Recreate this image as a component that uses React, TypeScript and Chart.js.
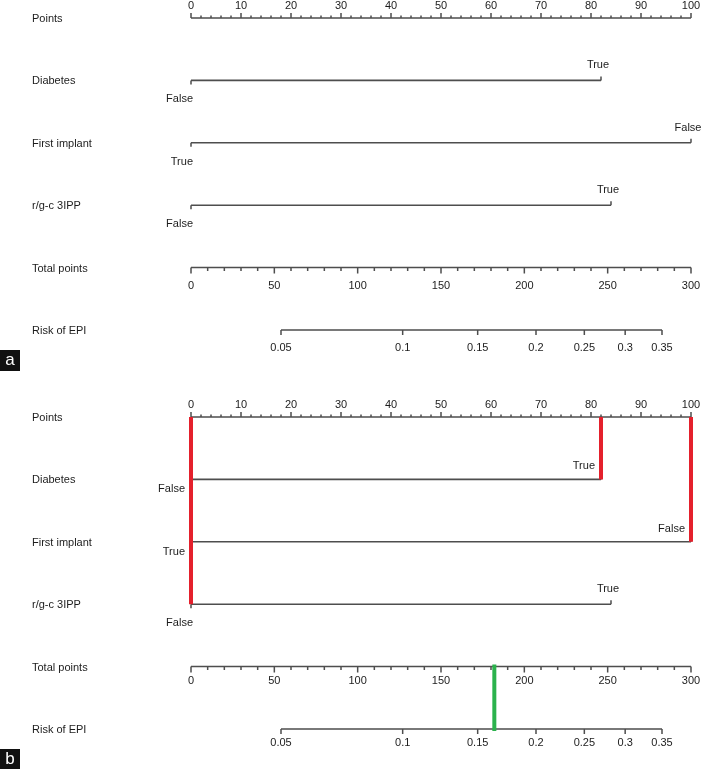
import React, { useEffect, useRef } from 'react';
import { Chart, registerables } from 'chart.js';

Chart.register(...registerables);

// ---- data ----
const rowTitles = ['Points', 'Diabetes', 'First implant', 'r/g-c 3IPP', 'Total points', 'Risk of EPI'];
const pointsTickValues = [0, 10, 20, 30, 40, 50, 60, 70, 80, 90, 100];
const pointsMinorStep = 2;
const lowLevelLabels = ['False', 'True', 'False'];
const lowLevelPoints = [0, 0, 0];
const highLevelLabels = ['True', 'False', 'True'];
const highLevelPoints = [82, 100, 84];
const totalTickValues = [0, 50, 100, 150, 200, 250, 300];
const totalMinorStep = 10;
const riskTickLabels = ['0.05', '0.1', '0.15', '0.2', '0.25', '0.3', '0.35'];
const riskTickTotals = [54, 127, 172, 207, 236, 260.5, 282.6];
const patientLevels = ['True', 'False', 'False'];
const patientTotal = 182;

const FONT = '11px "Liberation Sans", Arial, Helvetica, sans-serif';
const LINE = '#4e4e4e';
const TEXT = '#1c1c1c';
const RED = '#e4202c';
const GREEN = '#2bb24c';

type PanelProps = { letter: string; highlight: boolean; top: number; height: number; labelGap: number };

function Panel({ letter, highlight, top, height, labelGap }: PanelProps) {
  const ref = useRef<HTMLCanvasElement | null>(null);

  useEffect(() => {
    const canvas = ref.current;
    if (!canvas) return;

    const selected = patientLevels.map((lv, i) => (lv === highLevelLabels[i] ? highLevelPoints[i] : lowLevelPoints[i]));
    const redLines = highlight ? selected.map((x, i) => ({ x, endRow: i + 1 })) : [];

    const datasets: any[] = [];
    lowLevelPoints.forEach((lo, i) => {
      datasets.push({
        data: [{ x: lo, y: i + 1 }, { x: highLevelPoints[i], y: i + 1 }],
        borderColor: LINE,
        borderWidth: 1.6,
        pointRadius: 0,
        xAxisID: 'x',
        yAxisID: 'y',
        clip: false,
        order: 2,
      });
    });
    if (highlight) {
      redLines.forEach((l) => {
        datasets.push({
          data: [{ x: l.x, y: 0 }, { x: l.x, y: l.endRow }],
          borderColor: RED,
          borderWidth: 4,
          borderCapStyle: 'butt',
          pointRadius: 0,
          xAxisID: 'x',
          yAxisID: 'y',
          clip: false,
          order: 0,
        });
      });
      datasets.push({
        data: [{ x: patientTotal, y: 4 }, { x: patientTotal, y: 5 }],
        borderColor: GREEN,
        borderWidth: 4,
        borderCapStyle: 'square',
        pointRadius: 0,
        xAxisID: 'xt',
        yAxisID: 'y',
        clip: false,
        order: 0,
      });
    }

    const nomogram = {
      id: 'nomogram',
      beforeDatasetsDraw(chart: any) {
        const ctx = chart.ctx as CanvasRenderingContext2D;
        const xs = chart.scales.x;
        const xt = chart.scales.xt;
        const ys = chart.scales.y;
        ctx.save();
        ctx.strokeStyle = LINE;
        ctx.lineWidth = 1.5;
        // Points axis
        const y0 = ys.getPixelForValue(0);
        ctx.beginPath();
        ctx.moveTo(xs.getPixelForValue(0), y0);
        ctx.lineTo(xs.getPixelForValue(100), y0);
        for (let v = 0; v <= 100; v += pointsMinorStep) {
          const px = xs.getPixelForValue(v);
          const len = pointsTickValues.includes(v) ? 5 : 2.5;
          ctx.moveTo(px, y0);
          ctx.lineTo(px, y0 - len);
        }
        ctx.stroke();
        // variable line end ticks
        ctx.beginPath();
        lowLevelPoints.forEach((lo, i) => {
          const py = ys.getPixelForValue(i + 1);
          const a = xs.getPixelForValue(lo);
          const b = xs.getPixelForValue(highLevelPoints[i]);
          ctx.moveTo(a, py);
          ctx.lineTo(a, py + 4);
          ctx.moveTo(b, py);
          ctx.lineTo(b, py - 4);
        });
        ctx.stroke();
        // Total points axis
        const y4 = ys.getPixelForValue(4);
        ctx.beginPath();
        ctx.moveTo(xt.getPixelForValue(0), y4);
        ctx.lineTo(xt.getPixelForValue(300), y4);
        for (let v = 0; v <= 300; v += totalMinorStep) {
          const px = xt.getPixelForValue(v);
          const len = totalTickValues.includes(v) ? 6 : 3.5;
          ctx.moveTo(px, y4);
          ctx.lineTo(px, y4 + len);
        }
        ctx.stroke();
        // Risk axis
        const y5 = ys.getPixelForValue(5);
        ctx.beginPath();
        ctx.moveTo(xt.getPixelForValue(riskTickTotals[0]), y5);
        ctx.lineTo(xt.getPixelForValue(riskTickTotals[riskTickTotals.length - 1]), y5);
        riskTickTotals.forEach((t) => {
          const px = xt.getPixelForValue(t);
          ctx.moveTo(px, y5);
          ctx.lineTo(px, y5 + 5);
        });
        ctx.stroke();
        ctx.restore();
      },
      afterDatasetsDraw(chart: any) {
        const ctx = chart.ctx as CanvasRenderingContext2D;
        const xs = chart.scales.x;
        const xt = chart.scales.xt;
        const ys = chart.scales.y;
        ctx.save();
        ctx.font = FONT;
        ctx.fillStyle = TEXT;
        ctx.textBaseline = 'middle';
        // row titles
        ctx.textAlign = 'left';
        rowTitles.forEach((t, r) => {
          ctx.fillText(t, 32, ys.getPixelForValue(r) + 1);
        });
        // points tick labels
        ctx.textAlign = 'center';
        const y0 = ys.getPixelForValue(0);
        pointsTickValues.forEach((v) => {
          ctx.fillText(String(v), xs.getPixelForValue(v), y0 - 12.5);
        });
        // total tick labels
        const y4 = ys.getPixelForValue(4);
        totalTickValues.forEach((v) => {
          ctx.fillText(String(v), xt.getPixelForValue(v), y4 + labelGap);
        });
        // risk tick labels
        const y5 = ys.getPixelForValue(5);
        riskTickLabels.forEach((lab, i) => {
          ctx.fillText(lab, xt.getPixelForValue(riskTickTotals[i]), y5 + labelGap);
        });
        // level labels
        const drawLevel = (text: string, xv: number, row: number, above: boolean) => {
          const px = xs.getPixelForValue(xv);
          const py = ys.getPixelForValue(row);
          const covered = redLines.some((l) => l.x === xv && (above ? l.endRow >= row : l.endRow > row));
          if (covered) {
            ctx.textAlign = 'right';
            ctx.fillText(text, px - 6, above ? py - 13 : py + 10);
          } else if (above) {
            ctx.textAlign = 'center';
            ctx.fillText(text, px - 3, py - 15);
          } else {
            ctx.textAlign = 'right';
            ctx.fillText(text, px + 2, py + 19);
          }
        };
        lowLevelLabels.forEach((lab, i) => drawLevel(lab, lowLevelPoints[i], i + 1, false));
        highLevelLabels.forEach((lab, i) => drawLevel(lab, highLevelPoints[i], i + 1, true));
        // panel letter
        const by = y5 + 20;
        ctx.fillStyle = '#111111';
        ctx.fillRect(0, by, 20, 21);
        ctx.fillStyle = '#ffffff';
        ctx.font = '17px "Liberation Sans", Arial, sans-serif';
        ctx.textAlign = 'center';
        ctx.fillText(letter, 10, by + 10);
        ctx.restore();
      },
    };

    const chart = new Chart(canvas, {
      type: 'line',
      data: { datasets },
      options: {
        animation: false,
        responsive: false,
        maintainAspectRatio: false,
        events: [],
        layout: { padding: { left: 191, right: 15, top: 18, bottom: height - 18 - 312 } },
        scales: {
          x: { type: 'linear', min: 0, max: 100, display: false },
          xt: { type: 'linear', min: 0, max: 300, display: false },
          y: { type: 'linear', min: 0, max: 5, reverse: true, display: false },
        },
        plugins: { legend: { display: false }, tooltip: { enabled: false } },
      } as any,
      plugins: [nomogram],
    });
    return () => chart.destroy();
  }, [letter, highlight, height, labelGap]);

  return (
    <canvas
      ref={ref}
      width={706}
      height={height}
      style={{ position: 'absolute', left: 0, top, width: 706, height, display: 'block' }}
    />
  );
}

export default function App() {
  return (
    <div style={{ position: 'absolute', left: 0, top: 0, width: 706, height: 769, background: '#ffffff' }}>
      <Panel letter="a" highlight={false} top={0} height={399} labelGap={18} />
      <Panel letter="b" highlight={true} top={399} height={370} labelGap={14} />
    </div>
  );
}
